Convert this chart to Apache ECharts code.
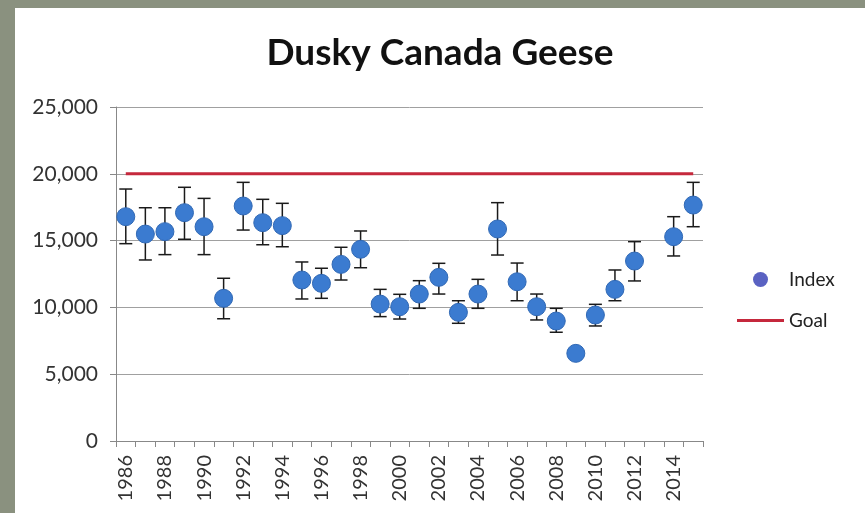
<!DOCTYPE html>
<html>
<head>
<meta charset="utf-8">
<script src="https://cdn.jsdelivr.net/npm/echarts@6/dist/echarts.min.js"></script>
<style>
  html, body { margin: 0; padding: 0; }
  body { width: 865px; height: 513px; background: #8a917f; position: relative; overflow: hidden; }
  #chart { position: absolute; left: 15px; top: 8px; width: 850px; height: 505px; background: #ffffff; }
</style>
</head>
<body>
<div id="chart"></div>
<script>
const years = [];
for (let y = 1986; y <= 2015; y++) years.push(String(y));

// index estimate per year, '-' where no survey (2013)
const indexValues = [16790, 15490, 15670, 17090, 16040, 10680, 17590, 16340, 16120, 12050,
  11800, 13220, 14350, 10250, 10050, 11000, 12250, 9630, 11000, 15870,
  11920, 10050, 8980, 6560, 9430, 11350, 13470, '-', 15290, 17660];
const lowValues = [14770, 13550, 13950, 15100, 13950, 9150, 15790, 14690, 14540, 10630,
  10680, 12050, 12970, 9310, 9130, 9930, 11000, 8810, 9930, 13920,
  10500, 9060, 8140, 6300, 8610, 10500, 11980, '-', 13850, 16040];
const highValues = [18860, 17460, 17460, 18990, 18160, 12180, 19360, 18090, 17790, 13400,
  12930, 14500, 15720, 11350, 10980, 12000, 13300, 10500, 12100, 17840,
  13320, 11000, 9930, 6800, 10230, 12800, 14920, '-', 16790, 19360];
const goalValues = years.map(() => 20000);

const errorData = [];
years.forEach((y, i) => {
  if (lowValues[i] !== '-') errorData.push([i, lowValues[i], highValues[i]]);
});

const chart = echarts.init(document.getElementById('chart'));
const font = 'Lato, "Open Sans", sans-serif';

chart.setOption({
  animation: false,
  title: {
    text: 'Dusky Canada Geese',
    left: 'center',
    top: 22,
    textStyle: { fontFamily: font, fontSize: 37, fontWeight: 'bold', color: '#111' }
  },
  legend: {
    orient: 'vertical',
    left: 717,
    top: 257,
    itemWidth: 47,
    itemHeight: 15,
    itemGap: 22,
    textStyle: { fontFamily: font, fontSize: 19, color: '#222' },
    data: [
      { name: 'Index', icon: 'circle', itemStyle: { color: '#5a62c2', borderWidth: 0 } },
      { name: 'Goal', icon: 'path://M0,0H47V3H0Z', itemStyle: { color: '#c5283c' } }
    ]
  },
  grid: { left: 101, right: 162, top: 99, bottom: 72 },
  xAxis: {
    type: 'category',
    data: years,
    boundaryGap: true,
    axisLine: { lineStyle: { color: '#888', width: 1 } },
    axisTick: { show: true, interval: 0, length: 6, lineStyle: { color: '#888' } },
    axisLabel: {
      interval: 1,
      rotate: 90,
      margin: 14,
      fontFamily: font,
      fontSize: 20,
      color: '#333'
    },
    splitLine: { show: false }
  },
  yAxis: {
    type: 'value',
    min: 0,
    max: 25000,
    interval: 5000,
    axisLine: { show: true, lineStyle: { color: '#888' } },
    axisTick: { show: true, length: 6, lineStyle: { color: '#888' } },
    axisLabel: {
      margin: 18,
      fontFamily: font,
      fontSize: 21,
      color: '#333',
      formatter: v => v.toLocaleString('en-US')
    },
    splitLine: { lineStyle: { color: '#a0a0a0', width: 1 } }
  },
  series: [
    {
      name: 'Goal',
      type: 'line',
      data: goalValues,
      symbol: 'none',
      lineStyle: { color: '#c5283c', width: 3 },
      itemStyle: { color: '#c5283c' },
      z: 2
    },
    {
      name: 'errors',
      type: 'custom',
      data: errorData,
      encode: { x: 0, y: [1, 2] },
      z: 3,
      silent: true,
      renderItem: function (params, api) {
        const x = api.value(0);
        const lo = api.coord([x, api.value(1)]);
        const hi = api.coord([x, api.value(2)]);
        const half = 6.5;
        const style = { stroke: '#1a1a1a', lineWidth: 1.5 };
        return {
          type: 'group',
          children: [
            { type: 'line', shape: { x1: lo[0], y1: lo[1], x2: hi[0], y2: hi[1] }, style },
            { type: 'line', shape: { x1: hi[0] - half, y1: hi[1], x2: hi[0] + half, y2: hi[1] }, style },
            { type: 'line', shape: { x1: lo[0] - half, y1: lo[1], x2: lo[0] + half, y2: lo[1] }, style }
          ]
        };
      }
    },
    {
      name: 'Index',
      type: 'scatter',
      data: indexValues,
      symbol: 'circle',
      symbolSize: 18,
      itemStyle: { color: '#3b7bd0', borderColor: '#3068b4', borderWidth: 1, opacity: 1 },
      z: 4
    }
  ]
});
</script>
</body>
</html>
